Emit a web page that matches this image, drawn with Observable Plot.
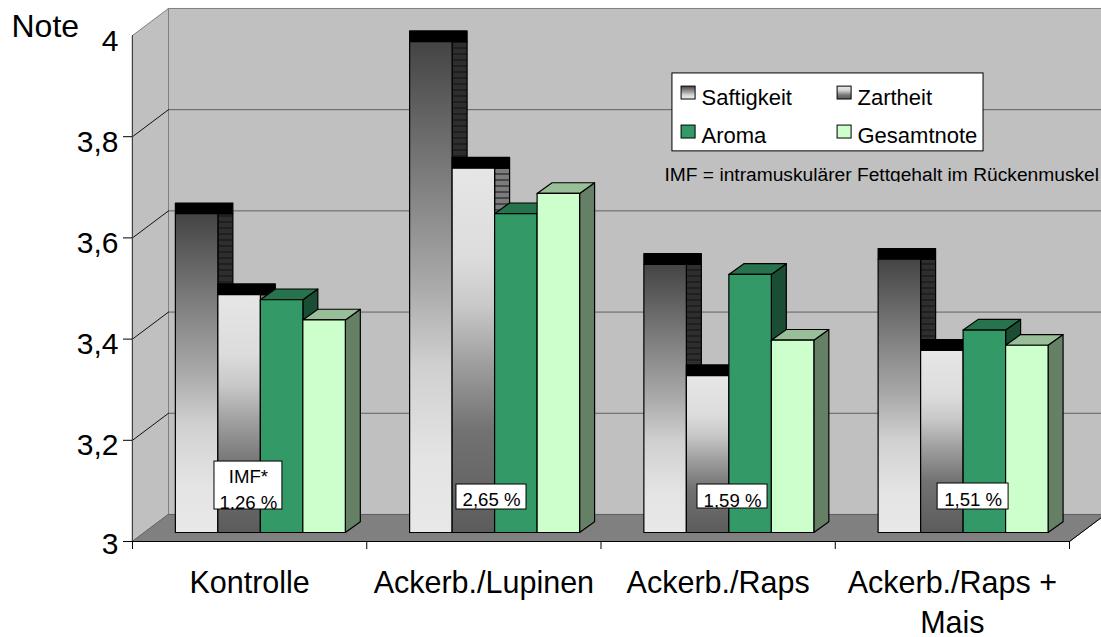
<!DOCTYPE html>
<html><head><meta charset="utf-8">
<script src="https://cdn.jsdelivr.net/npm/d3@7"></script>
<script src="https://cdn.jsdelivr.net/npm/@observablehq/plot@0.6"></script>
<style>html,body{margin:0;padding:0;background:#fff;overflow:hidden}svg{display:block}</style>
</head><body><div id="chart"></div>
<script>
const categories = ["Kontrolle", "Ackerb./Lupinen", "Ackerb./Raps", "Ackerb./Raps +\nMais"];
const saftigkeit = [3.63, 3.97, 3.53, 3.54];
const zartheit   = [3.47, 3.72, 3.31, 3.36];
const aroma      = [3.46, 3.63, 3.51, 3.40];
const gesamtnote = [3.42, 3.67, 3.38, 3.37];
const imfLabels  = ["IMF*\n1,26 %", "2,65 %", "1,59 %", "1,51 %"];
const yTicks = [3, 3.2, 3.4, 3.6, 3.8, 4];
const seriesNames = ["Saftigkeit", "Zartheit", "Aroma", "Gesamtnote"];
const note = "IMF = intramuskulärer Fettgehalt im Rückenmuskel";

// projection of the 3D box, in data units
const wallDX = 0.1537, wallDY = 0.0534;
const barStart = 0.183, barWidth = 0.1814, barLift = 0.0178;
const barDX = 0.064, barDY = 0.0212;

const styles = [
  {front: "url(#gradSaf)", side: "url(#stripeDark)", top: "#000", box: true},
  {front: "url(#gradZar)", side: "url(#stripeMid)",  top: "#000", box: true},
  {front: "#339966", side: "#1a4d33", top: "#26734d"},
  {front: "#ccffcc", side: "#668066", top: "#99bf99"}
];

const faces = [];
let faceId = 0;
function poly(list, fill, stroke, pts) {
  const id = faceId++;
  for (const [x, y] of pts) list.push({id, x, y, fill, stroke});
}
// walls
const walls = [];
poly(walls, "#c0c0c0", "#808080", [[wallDX, 3 + wallDY], [wallDX + 4, 3 + wallDY], [wallDX + 4, 4 + wallDY], [wallDX, 4 + wallDY]]);
poly(walls, "#c0c0c0", "#808080", [[0, 3], [wallDX, 3 + wallDY], [wallDX, 4 + wallDY], [0, 4]]);
const floor = [];
poly(floor, "#808080", "#606060", [[0, 3], [4, 3], [4 + wallDX, 3 + wallDY], [wallDX, 3 + wallDY]]);

// bars
categories.forEach((c, g) => {
  [saftigkeit, zartheit, aroma, gesamtnote].forEach((vals, s) => {
    const st = styles[s];
    const x1 = g + barStart + s * barWidth, x2 = x1 + barWidth;
    const y0 = 3 + barLift, y1 = vals[g] + barLift;
    if (st.box) {
      poly(faces, st.side, "#000", [[x2, y0], [x2 + barDX, y0 + barDY], [x2 + barDX, y1], [x2, y1]]);
      poly(faces, st.top, "#000", [[x1, y1], [x2 + barDX, y1], [x2 + barDX, y1 + barDY], [x1, y1 + barDY]]);
    } else {
      poly(faces, st.side, "#000", [[x2, y0], [x2 + barDX, y0 + barDY], [x2 + barDX, y1 + barDY], [x2, y1]]);
      poly(faces, st.top, "#000", [[x1, y1], [x2, y1], [x2 + barDX, y1 + barDY], [x1 + barDX, y1 + barDY]]);
    }
    poly(faces, st.front, "#000", [[x1, y0], [x2, y0], [x2, y1], [x1, y1]]);
  });
});

const gridVals = yTicks.slice(1, -1);
const sideGrid = gridVals.flatMap(v => [{v, x: 0, y: v}, {v, x: wallDX, y: v + wallDY}]);
const backGrid = gridVals.flatMap(v => [{v, x: wallDX, y: v + wallDY}, {v, x: wallDX + 4, y: v + wallDY}]);
const floorEdge = [{x: 0, y: 3}, {x: 4, y: 3}, {x: 4 + wallDX, y: 3 + wallDY}];

// annotation layout, in data units
const legendBox = {x1: 2.305, x2: 3.633, y1: 3.771, y2: 3.925};
const legendCols = [{sw: 2.344, tx: 2.429}, {sw: 3.010, tx: 3.095}];
const legendRows = [{y1: 3.8735, y2: 3.899, base: 3.862}, {y1: 3.7964, y2: 3.822, base: 3.787}];
const legendItems = seriesNames.map((name, i) => {
  const c = legendCols[i % 2], r = legendRows[i >> 1];
  return {name, x1: c.sw, x2: c.sw + 0.0598, y1: r.y1, y2: r.y2, tx: c.tx, base: r.base, fill: styles[i].front};
});
const labelBoxes = [
  {x1: 0.350, x2: 0.640, y1: 3.0632, y2: 3.158, base: 3.0652},
  {x1: 1.383, x2: 1.682, y1: 3.0632, y2: 3.1126, base: 3.0711},
  {x1: 2.412, x2: 2.711, y1: 3.0652, y2: 3.1126, base: 3.0672},
  {x1: 3.437, x2: 3.740, y1: 3.0632, y2: 3.1146, base: 3.0692}
];

let clipId = 0;
const clipTo = (x1, x2, y1, y2) => ({
  render(index, scales, values, dims, ctx, next) {
    const g = next(index, scales, values, dims, ctx);
    const id = "clip" + clipId++;
    const cp = d3.create("svg:clipPath").attr("id", id);
    cp.append("rect")
      .attr("x", scales.x(x1)).attr("y", scales.y(y2))
      .attr("width", scales.x(x2) - scales.x(x1))
      .attr("height", scales.y(y1) - scales.y(y2));
    g.insertBefore(cp.node(), g.firstChild);
    g.setAttribute("clip-path", `url(#${id})`);
    return g;
  }
});

const defs = () => {
  const d = d3.create("svg:defs");
  const grad = (id, stops) => {
    const g = d.append("linearGradient").attr("id", id).attr("x1", 0).attr("y1", 0).attr("x2", 0).attr("y2", 1);
    for (const [o, c] of stops) g.append("stop").attr("offset", o).attr("stop-color", c);
  };
  grad("gradSaf", [[0, "#444444"], [0.33, "#888888"], [0.5, "#aaaaaa"], [0.66, "#d0d0d0"], [0.85, "#e4e4e4"], [1, "#e8e8e8"]]);
  grad("gradZar", [[0, "#e6e6e6"], [0.25, "#dcdcdc"], [0.38, "#c8c8c8"], [0.53, "#a0a0a0"], [0.72, "#727272"], [1, "#5c5c5c"]]);
  const stripe = (id, color) => {
    const p = d.append("pattern").attr("id", id).attr("patternUnits", "userSpaceOnUse").attr("width", 8).attr("height", 6);
    p.append("rect").attr("width", 8).attr("height", 6).attr("fill", color);
    p.append("rect").attr("y", 5).attr("width", 8).attr("height", 1).attr("fill", "#111");
  };
  stripe("stripeDark", "#2e2e2e");
  stripe("stripeMid", "#7c7c7c");
  return d.node();
};

const fmt = d => String(d).replace(".", ",");
const faceOpts = {x: "x", y: "y", z: "id", curve: "linear-closed",
  fill: {value: "fill", scale: null}, stroke: {value: "stroke", scale: null}, strokeWidth: 1.2};

const font = "Liberation Sans, Arial, sans-serif";
const plot = Plot.plot({
  width: 1101, height: 637,
  marginLeft: 132, marginRight: 32, marginTop: 35, marginBottom: 96,
  style: {fontFamily: font, background: "#fff", color: "#000"},
  x: {domain: [0, 4], range: [132, 1069], axis: null},
  y: {domain: [3, 4], range: [541, 35], axis: null},
  marks: [
    defs,
    Plot.line(walls, {...faceOpts, strokeWidth: 1}),
    Plot.line(backGrid, {x: "x", y: "y", z: "v", stroke: "#606060", strokeWidth: 1}),
    Plot.line(sideGrid, {x: "x", y: "y", z: "v", stroke: "#111", strokeWidth: 1}),
    Plot.line(floor, {...faceOpts, strokeWidth: 1}),
    Plot.line(floorEdge, {x: "x", y: "y", stroke: "#000", strokeWidth: 1}),
    Plot.ruleX([0], {y1: 3, y2: 4, stroke: "#404040", strokeWidth: 1}),
    Plot.line(faces, faceOpts),

    // axes
    Plot.axisX({ticks: [0, 1, 2, 3, 4], tickSize: 8, fill: "none", label: null, stroke: "#000"}),
    Plot.axisY({ticks: yTicks.slice(0, -1), tickSize: 9, fill: "none", label: null, stroke: "#000"}),
    Plot.axisY({ticks: yTicks.slice(1), tickSize: 0, tickPadding: 14, tickFormat: fmt, label: null, fontSize: 30, dy: 5.5, fill: "#000"}),
    Plot.axisY({ticks: [3], tickSize: 0, tickPadding: 14, tickFormat: fmt, label: null, fontSize: 30, dy: 3, fill: "#000"}),
    Plot.text(categories, {x: (d, i) => i + 0.5, y: () => 3, text: d => d, fontSize: 30.5, lineAnchor: "top", dy: 23.3, lineHeight: 1.31, fill: "#000"}),
    Plot.text(["Note"], {x: () => -0.5165, y: () => 3.9966, text: d => d, fontSize: 32, textAnchor: "start", lineAnchor: "bottom", fill: "#000"}),

    // legend
    Plot.rect([legendBox], {x1: "x1", x2: "x2", y1: "y1", y2: "y2", fill: "#fff", stroke: "#000", strokeWidth: 1}),
    Plot.rect(legendItems, {x1: "x1", x2: "x2", y1: "y1", y2: "y2", fill: {value: "fill", scale: null}, stroke: "#000", strokeWidth: 1}),
    Plot.text(legendItems, {x: "tx", y: "base", text: "name", fontSize: 22, textAnchor: "start", lineAnchor: "bottom", fill: "#000"}),
    Plot.text([note], {x: () => 2.271, y: () => 3.713, text: d => d, fontSize: 19.2, textAnchor: "start", lineAnchor: "bottom", fill: "#000", ...clipTo(2.2, 4.15, 3.7105, 3.78)}),

    // IMF labels
    Plot.rect(labelBoxes, {x1: "x1", x2: "x2", y1: "y1", y2: "y2", fill: "#fff"}),
    ...labelBoxes.map((b, i) => Plot.text([imfLabels[i]], {
      x: () => (b.x1 + b.x2) / 2, y: () => b.base, text: d => d, fontSize: 18.6, lineAnchor: "bottom", lineHeight: 1.35, fill: "#000",
      ...clipTo(b.x1, b.x2, b.y1, b.y2)
    })),
    Plot.rect(labelBoxes, {x1: "x1", x2: "x2", y1: "y1", y2: "y2", fill: "none", stroke: "#000", strokeWidth: 1})
  ]
});
document.getElementById("chart").appendChild(plot);
</script></body></html>
